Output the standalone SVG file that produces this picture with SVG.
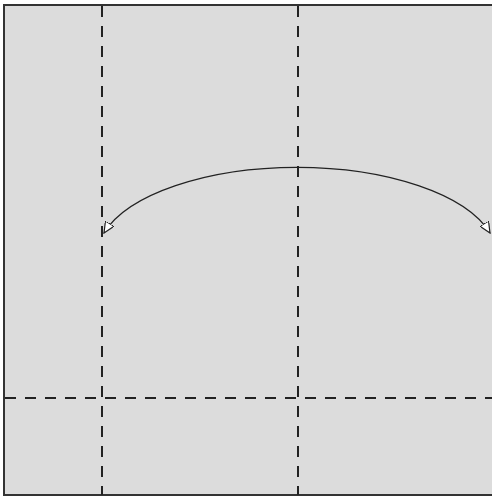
<svg xmlns="http://www.w3.org/2000/svg" width="492" height="499" viewBox="0 0 492 499">
  <style>
    .frame { fill: #dcdcdc; stroke: #333; stroke-width: 2; }
    .guide { stroke: #222; stroke-width: 2; stroke-dasharray: 11 9; fill: none; }
    .conn { stroke: #222; stroke-width: 1.2; fill: none; }
  </style>
  <defs>
    <marker id="arrow" viewBox="0 0 12 10" refX="11" refY="5" markerWidth="12" markerHeight="10" markerUnits="userSpaceOnUse" orient="auto-start-reverse">
      <path d="M0,0 L11,5 L0,10 Z" fill="#fff" stroke="#222" stroke-width="1.2" stroke-linejoin="miter"/>
    </marker>
  </defs>
  <g id="frame">
    <rect class="frame" x="4" y="5" width="500" height="490"/>
  </g>
  <g id="guides">
    <line class="guide" x1="102" y1="6" x2="102" y2="495"/>
    <line class="guide" x1="298" y1="6" x2="298" y2="495"/>
    <line class="guide" x1="5" y1="398" x2="492" y2="398"/>
  </g>
  <g id="connectors">
    <path class="conn" d="M490,233 A200,89 0 0 0 104,233" marker-start="url(#arrow)" marker-end="url(#arrow)"/>
  </g>
</svg>
